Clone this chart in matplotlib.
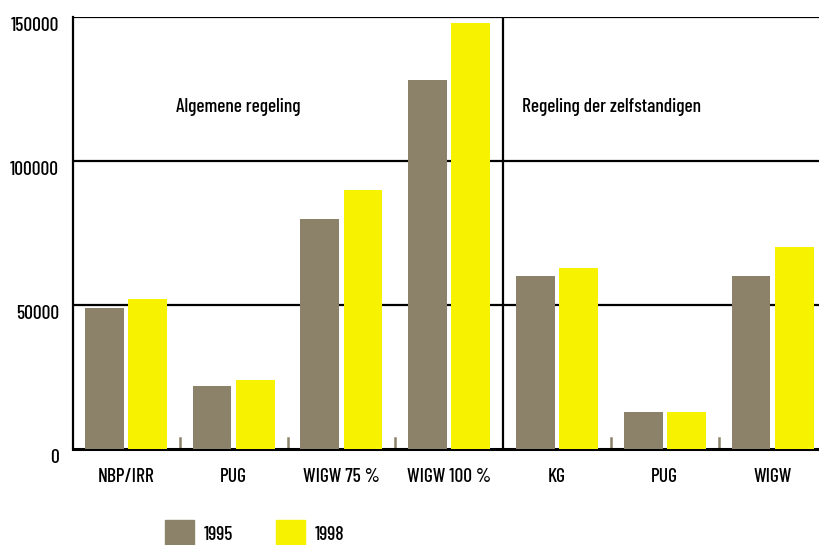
import matplotlib
matplotlib.use("Agg")
import matplotlib.pyplot as plt
from matplotlib.patches import Rectangle

plt.rcParams['font.family'] = ['Barlow Condensed', 'DejaVu Sans']
plt.rcParams['font.weight'] = 'medium'

categories = ["NBP/IRR", "PUG", "WIGW 75 %", "WIGW 100 %", "KG", "PUG", "WIGW"]
values_1995 = [49000, 22000, 80000, 128000, 60000, 13000, 60000]
values_1998 = [52000, 24000, 90000, 148000, 63000, 13000, 70000]
sections = ["Algemene regeling", "Regeling der zelfstandigen"]
years = ["1995", "1998"]

brown = "#8c826a"
yellow = "#f7f200"
fs = 14

fig = plt.figure(figsize=(8.2, 5.45), dpi=100)
ax = fig.add_axes([73 / 820, 1 - 449 / 545, 1 - 73 / 820, (449 - 17) / 545])

x = list(range(len(categories)))
w = 0.36
ax.bar([i - 0.2 for i in x], values_1995, width=w, color=brown, zorder=3)
ax.bar([i + 0.2 for i in x], values_1998, width=w, color=yellow, zorder=3)

# horizontal rules
for y in [50000, 100000, 150000]:
    ax.axhline(y, color="black", lw=1.6, zorder=2)

# divider between the two schemes
ax.plot([3.5, 3.5], [0, 150000], color="black", lw=1.6, zorder=2)

# small separators between the groups
for s in [0.5, 1.5, 2.5, 4.5, 5.5]:
    ax.plot([s, s], [0, 3800], color=brown, lw=1.8, zorder=2)

ax.set_xlim(-0.49, 6.44)
ax.set_ylim(0, 150000)

for sp in ["top", "right"]:
    ax.spines[sp].set_visible(False)
ax.spines["left"].set_linewidth(1.6)
ax.spines["bottom"].set_linewidth(2.2)

ax.set_yticks([0, 50000, 100000, 150000])
ax.set_yticklabels(["0", "50000", "100000", "150000"], fontsize=fs, va="top")
ax.set_xticks(x)
ax.set_xticklabels(categories, fontsize=fs)
ax.tick_params(axis="both", length=0)
ax.tick_params(axis="x", pad=14)
ax.tick_params(axis="y", pad=10)

ax.text(1.04, 117000, sections[0], fontsize=fs, ha="center", va="baseline")
ax.text(4.51, 117000, sections[1], fontsize=fs, ha="center", va="baseline")

# legend drawn below the plot
for k, (col, lab) in enumerate(zip([brown, yellow], years)):
    x0 = 165 + k * 111
    fig.add_artist(Rectangle((x0 / 820, 0), 29 / 820, 25 / 545,
                             transform=fig.transFigure, color=col))
    fig.text((x0 + 39) / 820, 1 - 540 / 545, lab, fontsize=fs, va="baseline")

fig.savefig("out.png", dpi=100)
